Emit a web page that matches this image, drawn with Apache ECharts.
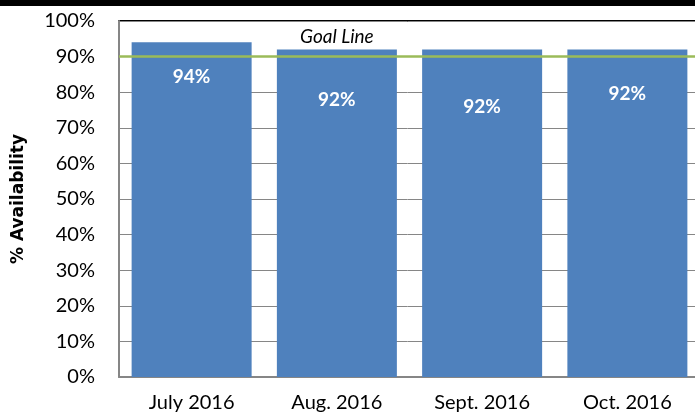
<!DOCTYPE html>
<html>
<head>
<meta charset="utf-8">
<script src="https://cdn.jsdelivr.net/npm/echarts@6/dist/echarts.min.js"></script>
<style>
  html, body { margin: 0; padding: 0; background: #fff; overflow: hidden; }
  #chart { width: 695px; height: 413px; }
</style>
</head>
<body>
<div id="chart"></div>
<script>
// data
const months = ['July 2016', 'Aug. 2016', 'Sept. 2016', 'Oct. 2016'];
const availability = [94, 92, 92, 92];
const goal = 90;
const yTicks = [0, 10, 20, 30, 40, 50, 60, 70, 80, 90, 100];

// label offsets inside each bar (px from bar top), layout only
const labelDy = [35, 50, 57, 44];

const chart = echarts.init(document.getElementById('chart'));

const option = {
  animation: false,
  backgroundColor: '#fff',
  // plot runs past the right edge of the picture
  grid: { left: 119, top: 21, bottom: 36, width: 581, outerBoundsMode: 'none' },
  graphic: [
    // black band at the very top
    { type: 'rect', shape: { x: 0, y: 0, width: 695, height: 6 }, style: { fill: '#000' } },
    // top border of the plot
    { type: 'line', shape: { x1: 118, y1: 21, x2: 695, y2: 21 }, style: { stroke: '#000', lineWidth: 2 } }
  ],
  xAxis: {
    type: 'category',
    data: months,
    axisTick: { show: false },
    splitLine: { show: false },
    axisLine: { lineStyle: { color: '#868686', width: 2 } },
    axisLabel: { color: '#000', fontFamily: 'Lato', fontSize: 20, margin: 16 }
  },
  yAxis: {
    type: 'value',
    min: yTicks[0],
    max: yTicks[yTicks.length - 1],
    interval: yTicks[1] - yTicks[0],
    name: '% Availability',
    nameLocation: 'middle',
    nameRotate: 90,
    nameGap: 92,
    nameTextStyle: { fontFamily: 'DejaVu Sans', fontWeight: 'bold', fontSize: 17, color: '#000' },
    axisLine: { show: true, lineStyle: { color: '#868686', width: 2 } },
    axisTick: { show: false },
    axisLabel: { formatter: '{value}%', color: '#000', fontFamily: 'Lato', fontSize: 20, margin: 24 },
    splitLine: { lineStyle: { color: '#868686', width: 1 } }
  },
  series: [
    {
      type: 'bar',
      barWidth: 120,
      itemStyle: { color: '#4f81bd' },
      data: availability.map((v, i) => ({
        value: v,
        label: {
          show: true,
          position: ['50%', labelDy[i]],
          align: 'center',
          verticalAlign: 'middle',
          formatter: '{c}%',
          color: '#fff',
          fontFamily: 'Lato',
          fontWeight: 'bold',
          fontSize: 19
        }
      })),
      markLine: {
        silent: true,
        symbol: 'none',
        label: { show: false },
        lineStyle: { color: '#9bbb59', width: 2.5, type: 'solid' },
        data: [{ yAxis: goal }]
      },
      markPoint: {
        silent: true,
        symbol: 'circle',
        symbolSize: 0,
        label: {
          show: true,
          position: 'top',
          distance: 10,
          formatter: 'Goal Line',
          color: '#000',
          fontFamily: 'Lato',
          fontStyle: 'italic',
          fontSize: 19
        },
        data: [{ coord: [months[1], goal] }]
      }
    }
  ]
};

chart.setOption(option);
</script>
</body>
</html>
